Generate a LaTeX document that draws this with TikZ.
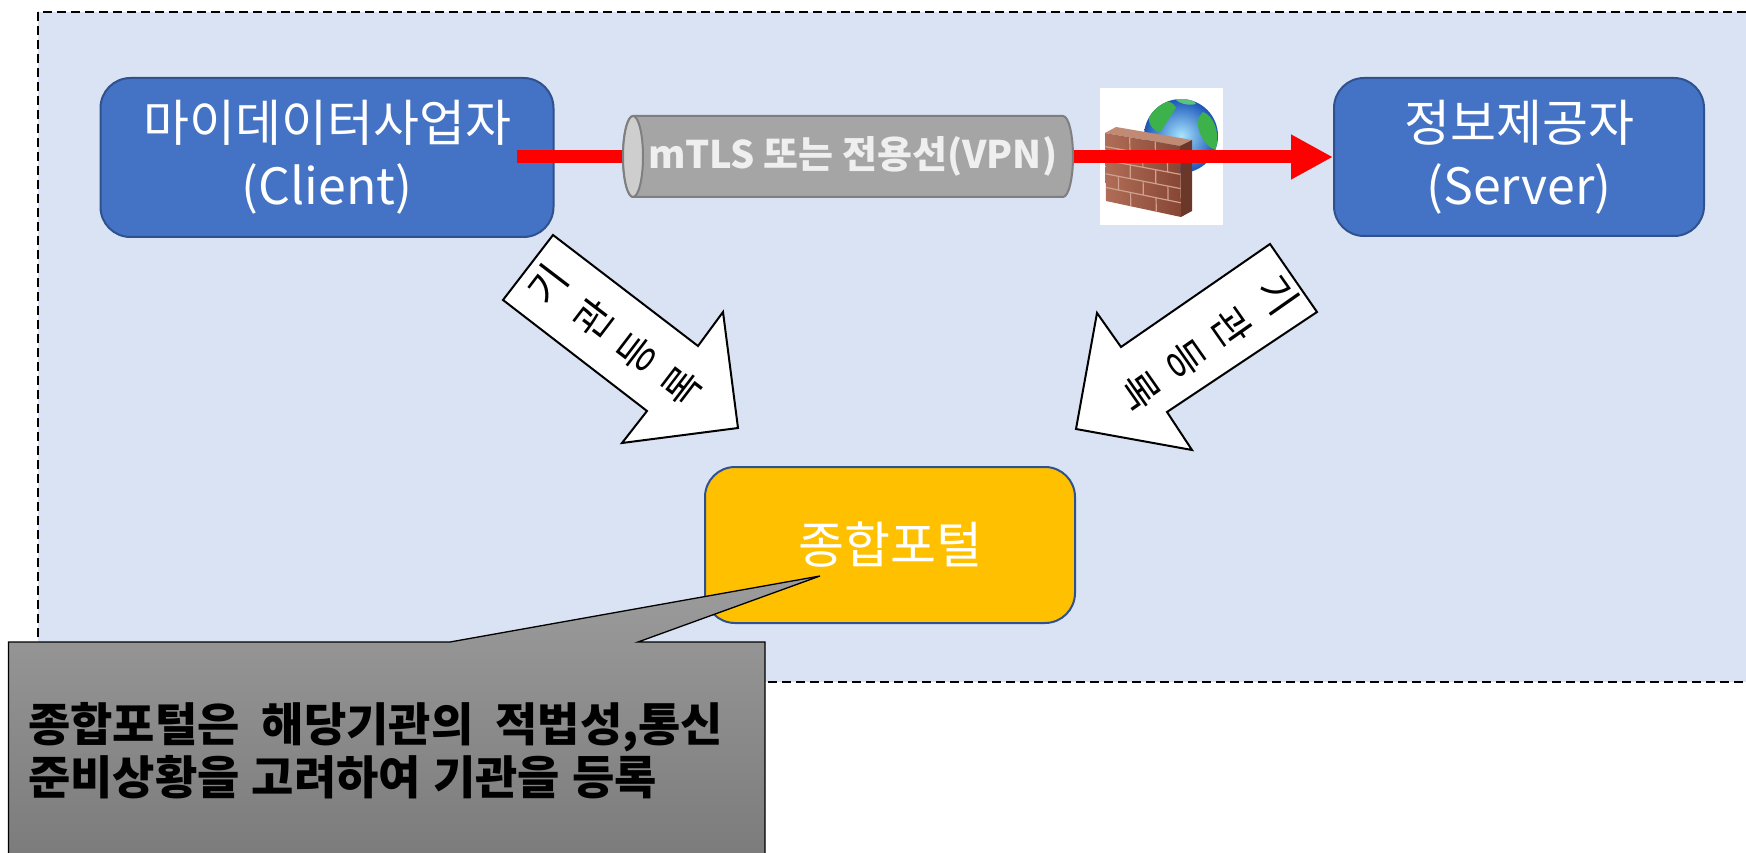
\documentclass[tikz,border=0pt]{standalone}
\usepackage{fontspec}
\setmainfont{Noto Sans CJK KR}
\usetikzlibrary{arrows.meta,calc}

\definecolor{bgblue}{HTML}{DAE3F3}
\definecolor{boxblue}{HTML}{4472C4}
\definecolor{boxedge}{HTML}{2F528F}
\definecolor{portal}{HTML}{FFC000}
\definecolor{pipebody}{HTML}{A5A5A5}
\definecolor{pipecap}{HTML}{CECECE}
\definecolor{pipeedge}{HTML}{7F7F7F}
\definecolor{pipetext}{HTML}{EFEFEF}
\definecolor{linkred}{HTML}{FF0000}
\definecolor{calltop}{HTML}{9C9C9C}
\definecolor{callbot}{HTML}{7A7A7A}
\definecolor{brickA}{HTML}{B06E58}
\definecolor{brickB}{HTML}{874634}
\definecolor{brickside}{HTML}{6A3729}
\definecolor{bricktop}{HTML}{C08A74}
\definecolor{mortar}{HTML}{CFA18E}
\definecolor{globein}{HTML}{A8E6FF}
\definecolor{globeout}{HTML}{1A55B8}
\definecolor{land}{HTML}{3DB24A}

\tikzset{
  bgframe/.style={draw=black, fill=bgblue, line width=2pt, dash pattern=on 9pt off 5pt},
  bluebox/.style={draw=boxedge, fill=boxblue, line width=2pt, rounded corners=30pt,
    text=white, align=center, inner sep=0pt, font=\fontsize{50}{63}\selectfont},
  portalbox/.style={bluebox, fill=portal},
  blockarrow/.style={draw=black, fill=white, line width=2pt, line join=miter},
  arrowglyph/.style={inner sep=0pt, font=\fontsize{40}{40}\selectfont},
  redlink/.style={draw=linkred, line width=13pt, -{Triangle[length=42pt,width=42pt]}},
  pipeline/.style={draw=pipeedge, line width=2pt},
  pipelabel/.style={inner sep=0pt, text=pipetext, font=\bfseries\fontsize{38}{38}\selectfont},
  calloutbox/.style={draw=black, line width=1.3pt, top color=calltop, bottom color=callbot},
  calltext/.style={inner sep=0pt, align=left, font=\bfseries\fontsize{46}{53}\selectfont}
}
% word gaps inside the note
\newcommand{\widegap}{\hspace{22pt}}
\newcommand{\narrowgap}{\hspace{12pt}}

\begin{document}
\begin{tikzpicture}[x=1pt,y=-1pt]
\useasboundingbox (0,0) rectangle (1746,853);
\clip (0,0) rectangle (1746,853);
\fill[white] (0,0) rectangle (1746,853);

% dashed frame around the system
\draw[bgframe] (38,12) rectangle (1790,682);

% participants
\node[bluebox, minimum width=453pt, minimum height=159pt] (client) at (327,157.5)
  {마이데이터사업자\\(Client)};
\node[bluebox, minimum width=370pt, minimum height=158pt] (server) at (1519,157)
  {정보제공자\\(Server)};
\node[portalbox, minimum width=370pt, minimum height=156pt] (portal) at (890,545)
  {종합포털};

% registration arrows
\draw[blockarrow] (553,235) -- (503,300) -- (647,411) -- (622,443) -- (738,428)
  -- (723,312) -- (698,346) -- cycle;
\draw[blockarrow] (1270,244) -- (1317,312) -- (1167,412) -- (1192,450) -- (1076,429)
  -- (1097,313) -- (1121,347) -- cycle;
\node[arrowglyph, rotate=52.6] (la1) at (548,285) {기};
\node[arrowglyph, rotate=52.6] (la2) at (593,319) {관};
\node[arrowglyph, rotate=52.6] (la3) at (637,353) {등};
\node[arrowglyph, rotate=52.6] (la4) at (682,387) {록};
\node[arrowglyph, rotate=-55] (ra1) at (1278,295) {기};
\node[arrowglyph, rotate=-55] (ra2) at (1232,327) {관};
\node[arrowglyph, rotate=-55] (ra3) at (1186,359) {등};
\node[arrowglyph, rotate=-55] (ra4) at (1140,391) {록};

% firewall icon
\fill[white] (1100,88) rectangle (1223,225);
\shade[inner color=globein, outer color=globeout] (1181,136) circle (37);
\begin{scope}
  \clip (1181,136) circle (37);
  \fill[land] (1150,112) .. controls (1158,100) and (1172,98) .. (1176,108)
    .. controls (1170,116) and (1166,124) .. (1160,132)
    .. controls (1152,130) and (1146,122) .. cycle;
  \fill[land] (1203,112) .. controls (1214,116) and (1220,132) .. (1216,150)
    .. controls (1208,148) and (1200,138) .. (1198,126) .. controls (1198,118) .. cycle;
  \fill[land!70!globein] (1172,96) .. controls (1184,96) and (1194,100) .. (1196,104)
    .. controls (1188,106) and (1178,104) .. cycle;
\end{scope}
\coordinate (wTL) at (1105,133);
\coordinate (wTR) at (1180,146);
\coordinate (wBR) at (1181,217);
\coordinate (wBL) at (1106,201);
\fill[bricktop] (wTL) -- (1116,127) -- (1192,140) -- (wTR) -- cycle;
\fill[brickside] (wTR) -- (1192,140) -- (1192,211) -- (wBR) -- cycle;
\shade[left color=brickA, right color=brickB] (wTL) -- (wTR) -- (wBR) -- (wBL) -- cycle;
\foreach \i in {0,...,5} {
  \coordinate (rl\i) at ($(wTL)!\i/5!(wBL)$);
  \coordinate (rr\i) at ($(wTR)!\i/5!(wBR)$);
}
\foreach \i in {1,...,4} {
  \draw[mortar, line width=1.2pt] (rl\i) -- (rr\i);
}
\foreach \i/\j in {0/1,2/3,4/5} {
  \foreach \f in {0.33,0.67} {
    \draw[mortar, line width=1.2pt] ($(rl\i)!\f!(rr\i)$) -- ($(rl\j)!\f!(rr\j)$);
  }
}
\foreach \i/\j in {1/2,3/4} {
  \foreach \f in {0.17,0.5,0.83} {
    \draw[mortar, line width=1.2pt] ($(rl\i)!\f!(rr\i)$) -- ($(rl\j)!\f!(rr\j)$);
  }
}

% secure link from client to server
\coordinate (linkstart) at (517,157);
\draw[redlink] (linkstart) -- (server.west);

% tunnel drawn over the link
\draw[pipeline, fill=pipebody] (633,116) -- (1063,116)
  arc[start angle=-90, end angle=90, x radius=10, y radius=40.5]
  -- (633,197)
  arc[start angle=90, end angle=270, x radius=10, y radius=40.5] -- cycle;
\draw[pipeline, fill=pipecap] (633,156.5) ellipse[x radius=10, y radius=40.5];
\node[pipelabel] (tunnel) at (853,156) {mTLS 또는 전용선(VPN)};

% callout note
\coordinate (calltip) at (820,576);
\path[calloutbox] (8.5,642) -- (450,642) -- (calltip) -- (638,642) -- (765,642)
  -- (765,870) -- (8.5,870) -- cycle;
\node[calltext, anchor=west] (note) at (28,751)
  {종합포털은\widegap 해당기관의\widegap 적법성,통신\\
   준비상황을\narrowgap 고려하여\narrowgap 기관을\narrowgap 등록};
\end{tikzpicture}
\end{document}
